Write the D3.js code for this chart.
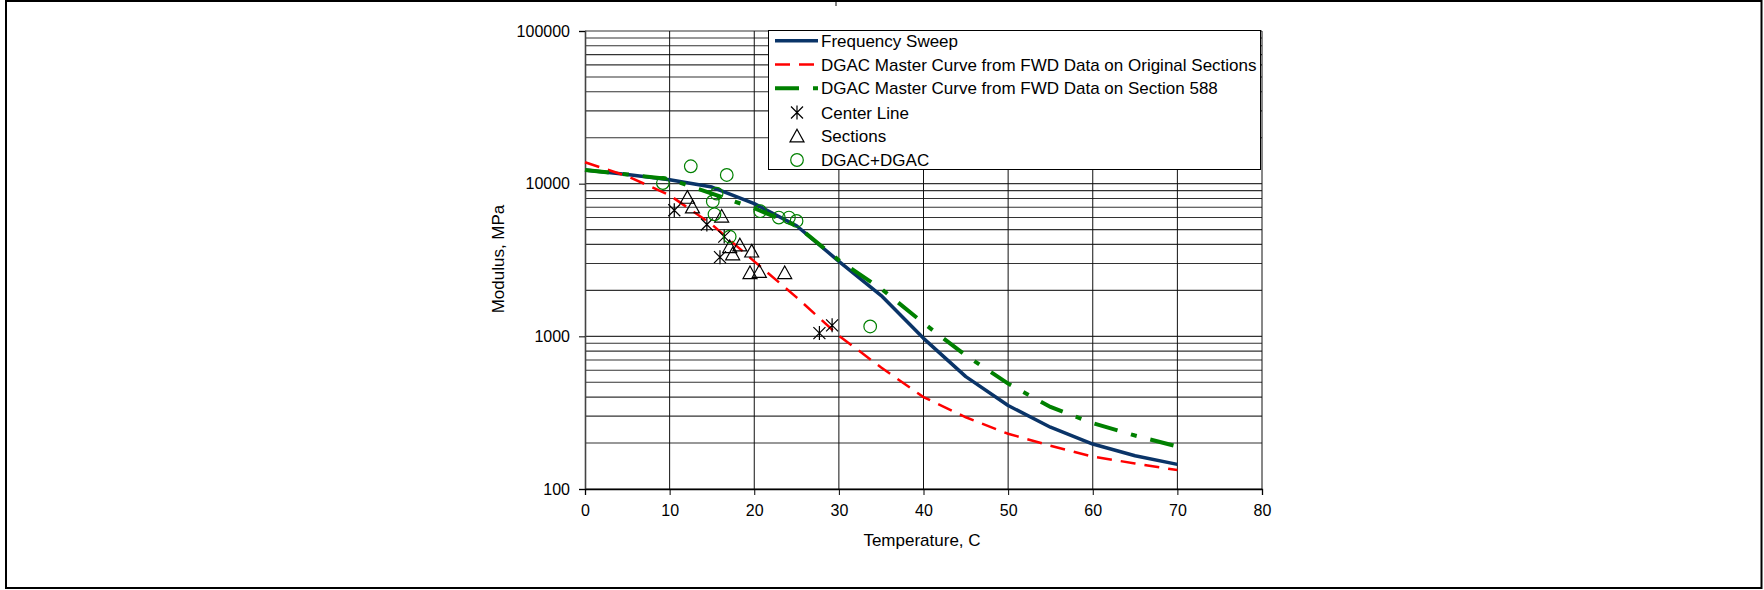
<!DOCTYPE html>
<html>
<head>
<meta charset="utf-8">
<script src="https://cdn.jsdelivr.net/npm/d3@7"></script>
<style>
  html, body { margin: 0; padding: 0; background: #fff; }
  svg { display: block; }
  text { font-family: "Liberation Sans", Arial, Helvetica, sans-serif; fill: #000; }
</style>
</head>
<body>
<svg id="chart" width="1764" height="590"></svg>
<script>
// ---- Data ----
const temps = [0, 5, 10, 15, 20, 25, 30, 35, 40, 45, 50, 55, 60, 65, 70];
const freqSweep = [12300, 11500, 10600, 9500, 7400, 5300, 3100, 1850, 970, 545, 352, 254, 197, 165, 145];
const dgacOrig = [13800, 11200, 8400, 5400, 3100, 1800, 1010, 625, 400, 295, 230, 192, 163, 147, 133];
const dgac588 = [12300, 11500, 10700, 8600, 6900, 5300, 3150, 2050, 1220, 750, 490, 345, 270, 224, 190];

const centerLineT = [10.55, 14.4, 15.95, 16.45, 27.7, 29.2];
const centerLineE = [6700, 5400, 3300, 4500, 1050, 1180];

const sectionsT = [12.1, 12.7, 16.15, 18.3, 17.1, 17.45, 19.7, 19.5, 20.6, 23.6];
const sectionsE = [8100, 7000, 6100, 3950, 3850, 3450, 3600, 2600, 2650, 2600];

const dgacT = [9.2, 12.5, 16.75, 15.1, 15.3, 15.55, 17.1, 20.7, 22.9, 24.1, 25.0, 33.7];
const dgacE = [10100, 13000, 11400, 7650, 6300, 8600, 4500, 6600, 6000, 6000, 5700, 1160];

const xTicks = [0, 10, 20, 30, 40, 50, 60, 70, 80];
const yTicks = [100, 1000, 10000, 100000];

const legendLabels = [
  "Frequency Sweep",
  "DGAC Master Curve from FWD Data on Original Sections",
  "DGAC Master Curve from FWD Data on Section 588",
  "Center Line",
  "Sections",
  "DGAC+DGAC"
];

// ---- Layout ----
const svg = d3.select("#chart");
const x = d3.scaleLinear().domain([0, 80]).range([585, 1262]);
const y = d3.scaleLog().domain([100, 100000]).range([489, 31]);

const BLUE = "#0a3468", RED = "#ff0000", GREEN = "#008000";

// outer frame
svg.append("rect").attr("x", 6).attr("y", 1).attr("width", 1755.5).attr("height", 587)
  .attr("fill", "none").attr("stroke", "#000").attr("stroke-width", 2);
svg.append("line").attr("x1", 836).attr("x2", 836).attr("y1", 0).attr("y2", 6)
  .attr("stroke", "#000").attr("stroke-width", 1);

// grid: horizontal (major + minor)
const hGrid = [];
[100, 1000, 10000].forEach(d => { for (let k = 1; k <= 9; k++) hGrid.push(d * k); });
hGrid.push(100000);
svg.append("g").selectAll("line").data(hGrid).join("line")
  .attr("x1", x(0)).attr("x2", x(80))
  .attr("y1", d => y(d)).attr("y2", d => y(d))
  .attr("stroke", "#333").attr("stroke-width", 1.1);

// grid: vertical
svg.append("g").selectAll("line").data(xTicks.slice(1)).join("line")
  .attr("x1", d => x(d)).attr("x2", d => x(d))
  .attr("y1", y(100000)).attr("y2", y(100))
  .attr("stroke", "#111").attr("stroke-width", 1);

// axes
const yAxis = d3.axisLeft(y).tickValues(yTicks).tickFormat(d3.format("d")).tickSize(6).tickPadding(9);
const gy = svg.append("g").attr("transform", `translate(${x(0)},0)`).call(yAxis);
gy.select(".domain").attr("stroke", "#444").attr("stroke-width", 1.6);
gy.selectAll(".tick line").attr("stroke", "#000");
gy.selectAll("text").attr("font-size", 16).attr("font-family", "Liberation Sans, Arial, sans-serif");

const xAxis = d3.axisBottom(x).tickValues(xTicks).tickFormat(d3.format("d")).tickSize(6).tickPadding(10);
const gx = svg.append("g").attr("transform", `translate(0,${y(100)})`).call(xAxis);
gx.select(".domain").attr("stroke", "#000").attr("stroke-width", 1.3);
gx.selectAll(".tick line").attr("stroke", "#000");
gx.selectAll("text").attr("font-size", 16).attr("font-family", "Liberation Sans, Arial, sans-serif");

// axis titles
svg.append("text").attr("x", 922).attr("y", 546).attr("text-anchor", "middle")
  .attr("font-size", 17).text("Temperature, C");
svg.append("text").attr("transform", "translate(504,259) rotate(-90)").attr("text-anchor", "middle")
  .attr("font-size", 17).text("Modulus, MPa");

// curves
const line = d3.line().x(d => x(d[0])).y(d => y(d[1]));
const zip = (a, b) => a.map((v, i) => [v, b[i]]);

svg.append("path").datum(zip(temps, freqSweep)).attr("d", line)
  .attr("fill", "none").attr("stroke", BLUE).attr("stroke-width", 3.5).attr("stroke-linejoin", "round");
svg.append("path").datum(zip(temps, dgacOrig)).attr("d", line)
  .attr("fill", "none").attr("stroke", RED).attr("stroke-width", 2.5).attr("stroke-dasharray", "15,9");
svg.append("path").datum(zip(temps, dgac588)).attr("d", line)
  .attr("fill", "none").attr("stroke", GREEN).attr("stroke-width", 4).attr("stroke-dasharray", "24,14,6,14");

// markers
function star(g, cx, cy) {
  const s = 6;
  g.append("path")
    .attr("d", `M${cx - s},${cy - s}L${cx + s},${cy + s}M${cx - s},${cy + s}L${cx + s},${cy - s}M${cx},${cy - s - 1}L${cx},${cy + s + 1}`)
    .attr("stroke", "#000").attr("stroke-width", 1.2).attr("fill", "none");
}
function tri(g, cx, cy) {
  const s = 7;
  g.append("path")
    .attr("d", `M${cx},${cy - s}L${cx + s},${cy + s * 0.8}L${cx - s},${cy + s * 0.8}Z`)
    .attr("stroke", "#000").attr("stroke-width", 1.2).attr("fill", "none");
}
function circ(g, cx, cy) {
  g.append("circle").attr("cx", cx).attr("cy", cy).attr("r", 6.3)
    .attr("stroke", GREEN).attr("stroke-width", 1.2).attr("fill", "none");
}
const gm = svg.append("g");
centerLineT.forEach((t, i) => star(gm, x(t), y(centerLineE[i])));
sectionsT.forEach((t, i) => tri(gm, x(t), y(sectionsE[i])));
dgacT.forEach((t, i) => circ(gm, x(t), y(dgacE[i])));

// legend
const lg = svg.append("g");
lg.append("rect").attr("x", 768.5).attr("y", 30.5).attr("width", 492).attr("height", 139)
  .attr("fill", "#fff").attr("stroke", "#000").attr("stroke-width", 1);
const rowsY = [40.7, 64.5, 88.3, 112.5, 136.3, 160];
lg.append("line").attr("x1", 775).attr("x2", 818).attr("y1", rowsY[0]).attr("y2", rowsY[0])
  .attr("stroke", BLUE).attr("stroke-width", 3.5);
lg.append("line").attr("x1", 775).attr("x2", 818).attr("y1", rowsY[1]).attr("y2", rowsY[1])
  .attr("stroke", RED).attr("stroke-width", 2.5).attr("stroke-dasharray", "15,9");
lg.append("line").attr("x1", 775).attr("x2", 818).attr("y1", rowsY[2]).attr("y2", rowsY[2])
  .attr("stroke", GREEN).attr("stroke-width", 4).attr("stroke-dasharray", "24,14,6,14");
star(lg, 797, rowsY[3]);
tri(lg, 797, rowsY[4]);
circ(lg, 797, rowsY[5]);
lg.selectAll("text.leg").data(legendLabels).join("text").attr("class", "leg")
  .attr("x", 821).attr("y", (d, i) => rowsY[i] + 6).attr("font-size", 17).text(d => d);
</script>
</body>
</html>
